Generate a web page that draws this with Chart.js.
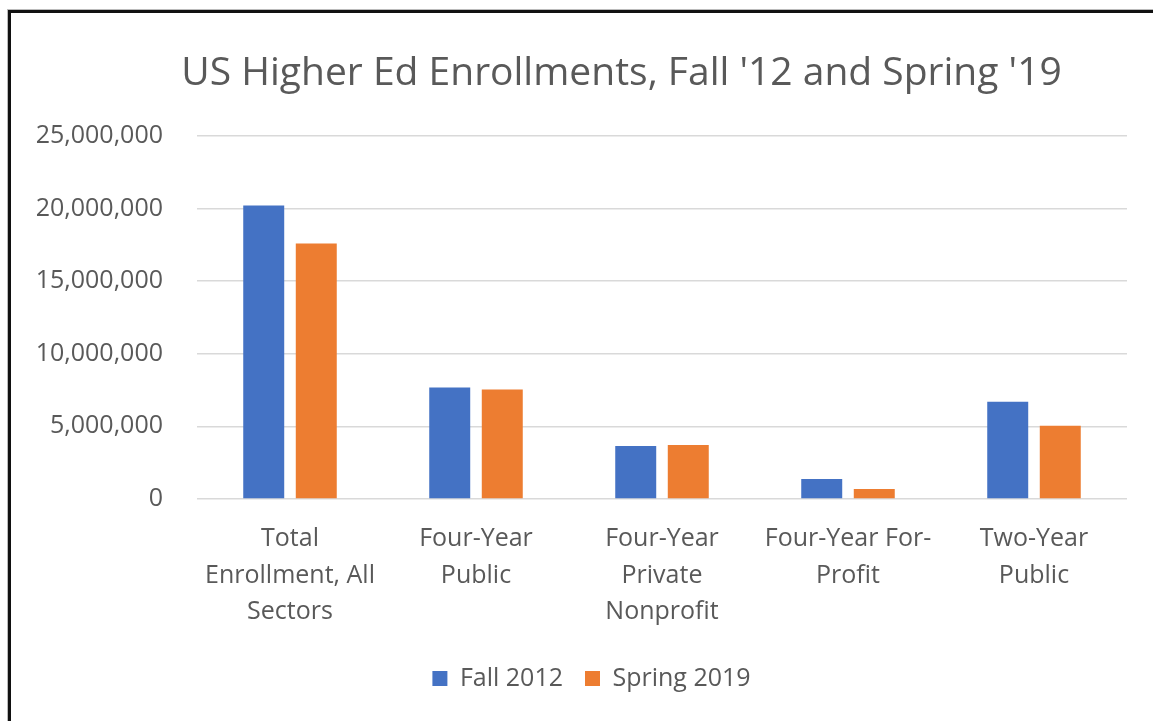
<!DOCTYPE html>
<html>
<head>
<meta charset="utf-8">
<script src="https://cdn.jsdelivr.net/npm/chart.js@4/dist/chart.umd.min.js"></script>
<style>
  html, body { margin: 0; padding: 0; background: #fff; }
  #wrap { position: relative; width: 1153px; height: 721px; overflow: hidden; }
  #frame {
    position: absolute; left: 8px; top: 10px; right: -10px; bottom: -10px;
    border-top: 3px solid #111; border-left: 3px solid #111;
    box-shadow: -1px -1px 0 #bbb;
    pointer-events: none;
  }
  canvas { position: absolute; left: 0; top: 0; }
</style>
</head>
<body>
<div id="wrap">
  <canvas id="enrollChart" width="1153" height="721"></canvas>
  <div id="frame"></div>
</div>
<script>
// ===== DATA =====
const categories = [
  ["Total", "Enrollment, All", "Sectors"],
  ["Four-Year", "Public"],
  ["Four-Year", "Private", "Nonprofit"],
  ["Four-Year For-", "Profit"],
  ["Two-Year", "Public"]
];
const fall2012 = [20200000, 7670000, 3640000, 1380000, 6700000];
const spring2019 = [17580000, 7530000, 3720000, 690000, 5050000];
const yTicks = [0, 5000000, 10000000, 15000000, 20000000, 25000000];

const textColor = "#595959";
const fontFamily = "'Open Sans', sans-serif";

// title / legend sit a bit right of the canvas centre in the original
const shiftBoxes = {
  id: "shiftBoxes",
  afterLayout(chart) {
    if (chart.titleBlock) chart.titleBlock.left += 86;
    if (chart.legend) chart.legend.left += 26;
  }
};

// ===== CHART =====
const ctx = document.getElementById("enrollChart").getContext("2d");

new Chart(ctx, {
  type: "bar",
  data: {
    labels: categories,
    datasets: [
      {
        label: "Fall 2012",
        data: fall2012,
        backgroundColor: "#4472C4",
        categoryPercentage: 0.565,
        barPercentage: 0.78
      },
      {
        label: "Spring 2019",
        data: spring2019,
        backgroundColor: "#ED7D31",
        categoryPercentage: 0.565,
        barPercentage: 0.78
      }
    ]
  },
  options: {
    responsive: false,
    animation: false,
    layout: { padding: { left: 30, right: 26, top: 0, bottom: 20 } },
    plugins: {
      title: {
        display: true,
        text: "US Higher Ed Enrollments, Fall '12 and Spring '19",
        color: textColor,
        font: { family: fontFamily, size: 39, weight: "normal" },
        padding: { top: 50, bottom: 39 }
      },
      legend: {
        position: "bottom",
        labels: {
          color: textColor,
          font: { family: fontFamily, size: 25 },
          boxWidth: 15,
          boxHeight: 15,
          padding: 22
        }
      },
      tooltip: { enabled: false }
    },
    scales: {
      x: {
        grid: { display: false, drawTicks: false },
        border: { display: false },
        ticks: {
          color: textColor,
          font: { family: fontFamily, size: 25, lineHeight: 1.45 },
          padding: 22,
          maxRotation: 0,
          autoSkip: false
        },
        afterFit: function (scale) { scale.height = 145; }
      },
      y: {
        min: 0,
        max: 25000000,
        afterBuildTicks: function (scale) {
          scale.ticks = yTicks.map(v => ({ value: v }));
        },
        grid: { color: "#d9d9d9", lineWidth: 1.5, drawTicks: false },
        border: { display: false },
        ticks: {
          color: textColor,
          font: { family: fontFamily, size: 25 },
          padding: 34,
          callback: v => Number(v).toLocaleString("en-US")
        },
        afterFit: function (scale) { scale.width = 167; }
      }
    }
  },
  plugins: [shiftBoxes]
});
</script>
</body>
</html>
